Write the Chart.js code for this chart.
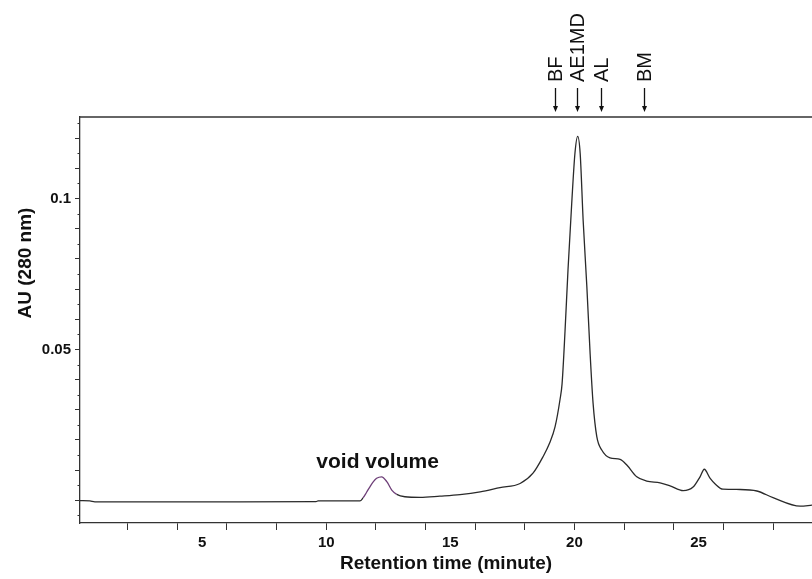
<!DOCTYPE html>
<html>
<head>
<meta charset="utf-8">
<script src="https://cdn.jsdelivr.net/npm/chart.js@4.4.0/dist/chart.umd.min.js"></script>
<style>
  html, body { margin: 0; padding: 0; background: #fff; }
</style>
</head>
<body>
<canvas id="chart" width="812" height="579"></canvas>
<script>
// Retention time (minute) and absorbance (AU at 280 nm)
const retentionTime = [0.08, 0.48, 0.68, 3.0, 6.0, 9.59, 9.67, 11.36, 11.48, 11.62, 11.76, 11.9,
    12.03, 12.23, 12.44, 12.64, 12.84, 13.17, 13.78, 14.58, 15.39, 16.2, 17.0, 17.81, 18.33,
    18.73, 19.0, 19.22, 19.42, 19.5, 19.62, 19.74, 19.89, 20.02, 20.13, 20.23, 20.35, 20.5, 20.63,
    20.75, 20.9, 21.1, 21.43, 21.84, 22.11, 22.51, 22.91, 23.45, 23.85, 24.38, 24.78, 25.06,
    25.23, 25.46, 25.7, 25.98, 26.67, 27.35, 28.0, 29.09, 29.57];
const absorbance = [-0.0001, -0.0002, -0.0005, -0.0005, -0.0005, -0.0004, -0.0002, -0.0002,
    0.0008, 0.0026, 0.0045, 0.0062, 0.0073, 0.0078, 0.0062, 0.0034, 0.0020, 0.0012, 0.0010,
    0.0014, 0.0019, 0.0028, 0.0042, 0.0056, 0.0090, 0.0144, 0.0190, 0.0244, 0.0335, 0.0385, 0.0560,
    0.0763, 0.0984, 0.1150, 0.1206, 0.1150, 0.0928, 0.0707, 0.0488, 0.0322, 0.0211, 0.0167,
    0.0141, 0.0136, 0.0117, 0.0078, 0.0064, 0.0058, 0.0048, 0.0032, 0.0044, 0.0078, 0.0103,
    0.0074, 0.0052, 0.0037, 0.0036, 0.0031, 0.0009, -0.0019, -0.0016];

// Marker arrows above the plot
const markerLabels = ['BF', 'AE1MD', 'AL', 'BM'];
const markerTimes = [19.22, 20.12, 21.07, 22.8];

// Void volume peak (drawn in purple) and its label
const voidLabel = 'void volume';
const voidRange = [11.4, 13.0];
const voidLabelAt = [9.6, 0.0127];

const xLabelEvery = 5;   // labels at 5, 10, ...
const xTickEvery = 2;    // tick marks at 2, 4, ...

const AXIS = '#333';
const FONT = '"Liberation Sans", Arial, Helvetica, sans-serif';

function isMajorY(v) {
    return Math.abs(Math.round(v * 1000)) % 10 === 0;
}

let points = [];
retentionTime.forEach((t, i) => {
    points.push({ x: t, y: absorbance[i] });
});

// Extra drawing: top frame, minor y ticks, arrows and free labels
const decorations = {
    id: 'decorations',
    afterDraw(chart) {
        const { ctx, chartArea } = chart;
        const xs = chart.scales.x;
        const ys = chart.scales.y;
        ctx.save();
        ctx.strokeStyle = AXIS;
        ctx.lineWidth = 1.3;
        ctx.beginPath();
        ctx.moveTo(chartArea.left, chartArea.top);
        ctx.lineTo(chartArea.right, chartArea.top);
        ctx.stroke();

        // short ticks for every 0.005
        ctx.lineWidth = 1;
        ctx.beginPath();
        ys.ticks.forEach((t) => {
            if (!isMajorY(t.value)) {
                const py = Math.round(ys.getPixelForValue(t.value)) + 0.5;
                ctx.moveTo(chartArea.left - 2.5, py);
                ctx.lineTo(chartArea.left, py);
            }
        });
        ctx.stroke();

        // arrows with rotated names
        ctx.fillStyle = '#111';
        ctx.strokeStyle = '#111';
        ctx.font = '20px ' + FONT;
        markerTimes.forEach((t, i) => {
            const px = Math.round(xs.getPixelForValue(t)) + 0.5;
            ctx.lineWidth = 1.3;
            ctx.beginPath();
            ctx.moveTo(px, 88);
            ctx.lineTo(px, 108);
            ctx.stroke();
            ctx.beginPath();
            ctx.moveTo(px - 2.5, 106);
            ctx.lineTo(px + 2.5, 106);
            ctx.lineTo(px, 112);
            ctx.closePath();
            ctx.fill();
            ctx.save();
            ctx.translate(px + 1, 82);
            ctx.rotate(-Math.PI / 2);
            ctx.textAlign = 'left';
            ctx.textBaseline = 'middle';
            ctx.fillText(markerLabels[i], 0, 0);
            ctx.restore();
        });

        // void volume label
        ctx.font = 'bold 21px ' + FONT;
        ctx.textAlign = 'left';
        ctx.textBaseline = 'middle';
        ctx.fillText(voidLabel, xs.getPixelForValue(voidLabelAt[0]), ys.getPixelForValue(voidLabelAt[1]));

        // y axis title (sits above the middle in the original)
        ctx.save();
        ctx.translate(26, 263);
        ctx.rotate(-Math.PI / 2);
        ctx.textAlign = 'center';
        ctx.font = 'bold 19px ' + FONT;
        ctx.fillText('AU (280 nm)', 0, 0);
        ctx.restore();
        ctx.restore();
    }
};

const ctx = document.getElementById('chart').getContext('2d');
var myChart = new Chart(ctx, {
    type: 'line',
    data: {
        datasets: [{
            label: 'AU',
            data: points,
            borderColor: '#2a2a2a',
            borderWidth: 1.3,
            pointRadius: 0,
            cubicInterpolationMode: 'monotone',
            fill: false,
            segment: {
                borderColor: (c) => (c.p0.parsed.x >= voidRange[0] && c.p1.parsed.x <= voidRange[1]) ? '#6e3f78' : undefined
            }
        }]
    },
    options: {
        responsive: false,
        animation: false,
        layout: { padding: { top: 117, left: 0, right: 0, bottom: 0 } },
        plugins: {
            legend: { display: false },
            tooltip: { enabled: false }
        },
        scales: {
            x: {
                type: 'linear',
                min: 0.08,
                max: 29.57,
                afterFit: (scale) => { scale.height = 56; },
                border: { color: AXIS, width: 1.3 },
                grid: {
                    drawOnChartArea: false,
                    tickLength: 7,
                    tickColor: (c) => (Math.round(c.tick.value) % xTickEvery === 0) ? AXIS : 'rgba(0,0,0,0)'
                },
                ticks: {
                    stepSize: 1,
                    autoSkip: false,
                    includeBounds: false,
                    maxRotation: 0,
                    padding: 4,
                    color: '#111',
                    font: { family: FONT, size: 15, weight: 'bold' },
                    callback: (v) => (Math.round(v) % xLabelEvery === 0) ? String(Math.round(v)) : ''
                },
                title: {
                    display: true,
                    text: 'Retention time (minute)',
                    color: '#111',
                    font: { family: FONT, size: 19, weight: 'bold' },
                    padding: { top: 0, bottom: 4 }
                }
            },
            y: {
                min: -0.0075,
                max: 0.127,
                afterFit: (scale) => { scale.width = 80; },
                border: { color: AXIS, width: 1.3 },
                grid: {
                    drawOnChartArea: false,
                    tickLength: 5,
                    tickColor: (c) => isMajorY(c.tick.value) ? AXIS : 'rgba(0,0,0,0)'
                },
                ticks: {
                    stepSize: 0.005,
                    autoSkip: false,
                    includeBounds: false,
                    padding: 4,
                    color: '#111',
                    font: { family: FONT, size: 15, weight: 'bold' },
                    callback: (v) => {
                        const r = Math.round(v * 1000);
                        if (r === 50) return '0.05';
                        if (r === 100) return '0.1';
                        return '';
                    }
                }
            }
        }
    },
    plugins: [decorations]
});
</script>
</body>
</html>
